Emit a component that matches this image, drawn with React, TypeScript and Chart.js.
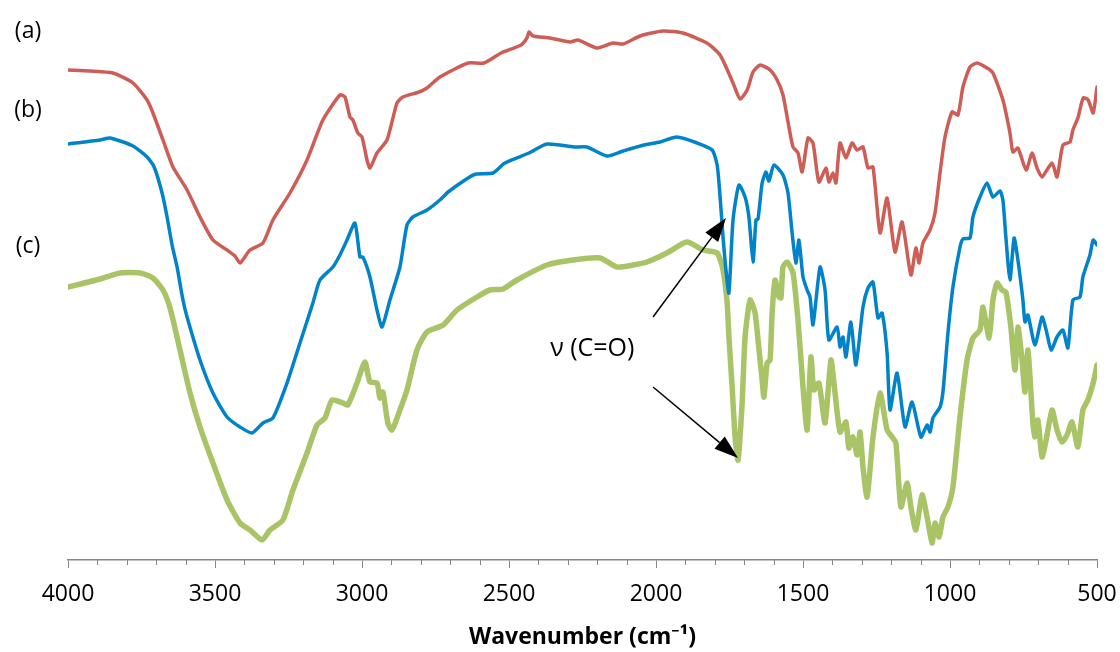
import { useEffect, useRef } from "react";
import { Chart, registerables } from "chart.js";

Chart.register(...registerables);

// (a) spectrum
const waveA = [4000, 3925, 3847, 3779, 3731, 3711, 3677, 3643, 3595, 3551, 3507, 3459, 3432, 3415, 3381, 3337, 3303, 3245, 3187, 3133, 3075, 3058, 3041, 3031, 3014, 3000, 2983, 2973, 2949, 2915, 2881, 2861, 2806, 2779, 2735, 2639, 2585, 2527, 2459, 2439, 2432, 2418, 2361, 2292, 2265, 2201, 2146, 2112, 2054, 1976, 1908, 1827, 1782, 1738, 1714, 1690, 1670, 1646, 1612, 1588, 1568, 1551, 1534, 1517, 1503, 1483, 1466, 1446, 1422, 1412, 1398, 1388, 1374, 1354, 1333, 1316, 1296, 1279, 1262, 1238, 1214, 1187, 1163, 1133, 1116, 1105, 1092, 1068, 1051, 1034, 1017, 993, 973, 956, 932, 908, 874, 854, 820, 796, 786, 769, 741, 721, 704, 687, 653, 636, 616, 592, 582, 565, 547, 530, 513, 500];
const transA = [98, 97.8, 97.4, 95.4, 92, 89.4, 84, 78.6, 74, 68.6, 64, 62, 60.8, 59.4, 62, 63.4, 68, 73.4, 80, 88, 93, 92.6, 88.6, 88, 85.4, 84.6, 80, 78.4, 81.4, 84, 91.4, 92.6, 93.6, 94.4, 96.6, 99.4, 99.4, 101.4, 103, 104.4, 105.6, 104.8, 104.4, 103.6, 104, 102.4, 103.4, 103.2, 104.8, 105.8, 105.4, 103.4, 101, 95.4, 92.2, 94, 97.6, 99, 98, 96, 93, 87.6, 82.6, 81.4, 77.6, 84.4, 83.4, 75.6, 78.4, 75.6, 77.4, 75.4, 83.4, 80.4, 83.4, 82, 82.6, 78.4, 78.6, 65.4, 72.4, 61.6, 67.6, 57, 62.4, 59.4, 63.4, 66, 69.4, 77.4, 84.6, 89.6, 89, 94.6, 98.6, 99.4, 98.4, 97.4, 92, 85.4, 81.6, 82.4, 78, 81.4, 78.4, 76.6, 79.4, 76.6, 83, 83.6, 86, 88.4, 92.4, 92, 89.4, 94.6];

// (b) spectrum
const waveB = [4000, 3891, 3857, 3779, 3731, 3707, 3680, 3663, 3646, 3629, 3609, 3595, 3551, 3507, 3459, 3415, 3374, 3337, 3303, 3255, 3211, 3167, 3143, 3099, 3075, 3051, 3024, 3007, 2997, 2973, 2949, 2932, 2905, 2871, 2847, 2827, 2779, 2735, 2707, 2639, 2612, 2554, 2514, 2432, 2371, 2279, 2235, 2167, 2112, 2041, 1986, 1929, 1860, 1809, 1792, 1782, 1772, 1762, 1752, 1738, 1718, 1697, 1684, 1670, 1660, 1653, 1639, 1626, 1616, 1599, 1568, 1551, 1537, 1524, 1514, 1500, 1486, 1476, 1466, 1442, 1425, 1412, 1384, 1374, 1364, 1354, 1337, 1320, 1296, 1279, 1262, 1245, 1231, 1214, 1204, 1180, 1153, 1129, 1099, 1078, 1068, 1058, 1034, 1024, 1007, 990, 966, 956, 932, 922, 898, 874, 854, 830, 820, 810, 796, 782, 769, 752, 745, 735, 711, 687, 673, 656, 636, 616, 599, 582, 558, 548, 524, 513, 500];
const transB = [83.2, 84, 84.4, 82.8, 80.6, 78.6, 73.4, 68.6, 63, 58.6, 52, 48.6, 40, 33.4, 28.6, 26.6, 25.4, 27.4, 28.4, 35.4, 43.4, 51.4, 56, 58.6, 61, 64, 67.4, 60.6, 60.6, 56.6, 50, 46.6, 52, 58.6, 67, 68.6, 70, 72, 73.6, 76.4, 77.2, 77.4, 79.4, 81.4, 83.2, 82.6, 82.6, 80.8, 81.8, 83, 83.6, 84.6, 83.4, 82, 79, 72.6, 64.6, 58, 53.4, 68, 75, 72.6, 68.6, 59.6, 68, 68.2, 75.4, 77.6, 75.8, 79, 77, 73.4, 65.4, 59.4, 64, 56.6, 54, 52.6, 47, 58.6, 54, 44, 46.6, 42.6, 44.6, 40.6, 47.6, 39, 50.6, 54.4, 55.6, 48.4, 49.4, 41.4, 30, 37.4, 26.6, 31.6, 24.6, 27, 25.6, 28.4, 30.6, 33.6, 45.4, 54.6, 62.6, 64.2, 64.4, 68.6, 72.6, 75.4, 72.6, 73.8, 72, 64.6, 56, 64.4, 60, 52, 47.6, 49, 43, 48.6, 46, 42, 44.6, 46, 42.4, 52, 52.6, 56.6, 61, 64, 63];

// (c) spectrum
const waveC = [4000, 3891, 3823, 3755, 3711, 3677, 3653, 3619, 3585, 3551, 3507, 3459, 3415, 3381, 3340, 3313, 3269, 3235, 3187, 3153, 3126, 3102, 3065, 3048, 3017, 2990, 2973, 2949, 2939, 2929, 2912, 2898, 2871, 2847, 2813, 2779, 2724, 2677, 2609, 2565, 2520, 2473, 2371, 2282, 2190, 2133, 2078, 2031, 1963, 1895, 1840, 1792, 1772, 1758, 1752, 1741, 1731, 1721, 1707, 1697, 1680, 1663, 1653, 1639, 1633, 1622, 1612, 1605, 1595, 1582, 1575, 1568, 1554, 1534, 1517, 1500, 1486, 1473, 1463, 1446, 1425, 1405, 1391, 1374, 1354, 1344, 1330, 1316, 1306, 1296, 1282, 1262, 1238, 1214, 1197, 1184, 1167, 1146, 1133, 1116, 1095, 1078, 1061, 1051, 1037, 1024, 1007, 990, 966, 942, 922, 898, 888, 867, 854, 840, 823, 810, 793, 779, 769, 755, 745, 735, 718, 711, 701, 687, 673, 653, 636, 619, 602, 585, 565, 548, 531, 513, 500];
const transC = [54.6, 56.2, 57.4, 57.4, 56.4, 54, 50.4, 42, 33.4, 26.6, 19.4, 12, 7.4, 6, 4, 6, 8, 14, 21.4, 27, 28.4, 32, 31.4, 31, 35.4, 39.6, 35.6, 35.4, 32.4, 33.6, 27.4, 26, 30, 34, 42, 45.6, 47, 50, 52.6, 54, 54.2, 56, 59, 60, 60.4, 58.6, 59, 59.6, 61.4, 63.6, 62, 61.4, 58, 51.4, 44.6, 34.6, 24.6, 20, 31.4, 44.6, 52, 49.4, 44, 36, 32.6, 39.4, 40, 49.4, 56, 52.6, 52.4, 58.6, 59.6, 57.4, 48, 34.6, 26, 40.6, 34, 35.4, 27.4, 40, 33.4, 25.6, 27.6, 22.4, 24.6, 21, 25.6, 18.6, 12.6, 24.6, 33.4, 26, 24.6, 23.4, 10.6, 15.4, 10.6, 6, 13, 8.6, 3.4, 7.4, 4.6, 8.6, 10.6, 14.6, 28.6, 40, 44.4, 46, 50.6, 44.4, 52, 55.4, 54, 53.6, 46.6, 38, 46.6, 40, 33.6, 42, 27.4, 24.6, 28, 20.6, 24, 30, 26, 23.6, 25, 27.6, 22.6, 30, 32, 35.4, 39];

const tickValues = [4000, 3500, 3000, 2500, 2000, 1500, 1000, 500];
const minorStep = 100;

const seriesNames = ["(a)", "(b)", "(c)"];
const seriesColors = ["#CD5D55", "#0083C9", "#A8C467"];
const seriesWidths = [3.5, 3.5, 5.5];
const nameWave = 4136;
const nameTrans = [105.8, 90, 62.8];

const annotationText = "\u03bd (C=O)";
const annotationAt = [2360, 42.2];
const arrowTails = [[2010, 48.6], [2010, 34.6]];
const arrowTips = [[1762, 68.4], [1721, 20.4]];

const FONT = "'Open Sans', 'Noto Sans', 'DejaVu Sans', sans-serif";

const overlayPlugin = {
  id: "overlay",
  afterDraw(chart: any) {
    const { ctx, chartArea } = chart;
    const xs = chart.scales.x;
    const ys = chart.scales.y;
    ctx.save();
    // minor ticks
    ctx.strokeStyle = "#868686";
    ctx.lineWidth = 1;
    for (let w = 500; w <= 4000; w += minorStep) {
      if (tickValues.includes(w)) continue;
      const px = Math.round(xs.getPixelForValue(w)) + 0.5;
      ctx.beginPath();
      ctx.moveTo(px, chartArea.bottom);
      ctx.lineTo(px, chartArea.bottom + 5);
      ctx.stroke();
    }
    // series labels
    ctx.fillStyle = "#000";
    ctx.font = `23px ${FONT}`;
    ctx.textAlign = "center";
    ctx.textBaseline = "middle";
    seriesNames.forEach((n, i) => {
      ctx.fillText(n, xs.getPixelForValue(nameWave), ys.getPixelForValue(nameTrans[i]));
    });
    // annotation text
    ctx.font = `25px ${FONT}`;
    ctx.textAlign = "left";
    ctx.fillText(annotationText, xs.getPixelForValue(annotationAt[0]), ys.getPixelForValue(annotationAt[1]));
    // arrows
    ctx.strokeStyle = "#000";
    ctx.fillStyle = "#000";
    ctx.lineWidth = 1.5;
    arrowTails.forEach((t, i) => {
      const x1 = xs.getPixelForValue(t[0]);
      const y1 = ys.getPixelForValue(t[1]);
      const x2 = xs.getPixelForValue(arrowTips[i][0]);
      const y2 = ys.getPixelForValue(arrowTips[i][1]);
      const ang = Math.atan2(y2 - y1, x2 - x1);
      const len = 24;
      const hw = 8;
      const bx = x2 - len * Math.cos(ang);
      const by = y2 - len * Math.sin(ang);
      ctx.beginPath();
      ctx.moveTo(x1, y1);
      ctx.lineTo(bx, by);
      ctx.stroke();
      ctx.beginPath();
      ctx.moveTo(x2, y2);
      ctx.lineTo(bx + hw * Math.sin(ang), by - hw * Math.cos(ang));
      ctx.lineTo(bx - hw * Math.sin(ang), by + hw * Math.cos(ang));
      ctx.closePath();
      ctx.fill();
    });
    ctx.restore();
  },
};

export default function App() {
  const ref = useRef<HTMLCanvasElement | null>(null);
  useEffect(() => {
    if (!ref.current) return;
    const mk = (w: number[], t: number[]) => w.map((x, i) => ({ x, y: t[i] }));
    const series = [mk(waveA, transA), mk(waveB, transB), mk(waveC, transC)];
    const chart = new Chart(ref.current, {
      type: "line",
      data: {
        datasets: series.map((d, i) => ({
          label: seriesNames[i],
          data: d,
          borderColor: seriesColors[i],
          borderWidth: seriesWidths[i],
          pointRadius: 0,
          tension: 0.2,
          fill: false,
          borderJoinStyle: "round" as const,
          borderCapStyle: "round" as const,
        })),
      },
      options: {
        responsive: false,
        animation: false,
        parsing: false as any,
        layout: { padding: { left: 68, right: 23, top: 0, bottom: 0 } },
        plugins: { legend: { display: false }, tooltip: { enabled: false }, title: { display: false } },
        scales: {
          x: {
            type: "linear",
            reverse: true,
            min: 500,
            max: 4000,
            afterBuildTicks: (s: any) => {
              s.ticks = tickValues.map((v) => ({ value: v }));
            },
            afterFit: (s: any) => {
              s.height = 92;
              s.paddingLeft = 0;
              s.paddingRight = 0;
            },
            ticks: {
              autoSkip: false,
              maxRotation: 0,
              padding: 13,
              color: "#000",
              font: { family: FONT, size: 23 },
              callback: (v: any) => String(v),
            },
            grid: { display: true, drawOnChartArea: false, drawTicks: true, tickLength: 8, color: "#868686", lineWidth: 1 },
            border: { display: true, color: "#868686", width: 1.5 },
            title: {
              display: true,
              text: "Wavenumber (cm\u207b\u00b9)",
              color: "#000",
              font: { family: FONT, size: 23, weight: "bold" },
              padding: { top: 2, bottom: 1 },
            },
          },
          y: { type: "linear", display: false, min: 0, max: 112 },
        },
      },
      plugins: [overlayPlugin],
    });
    return () => chart.destroy();
  }, []);
  return (
    <div style={{ position: "absolute", left: 0, top: 0, width: 1120, height: 652, background: "#fff" }}>
      <canvas ref={ref} width={1120} height={652} />
    </div>
  );
}
